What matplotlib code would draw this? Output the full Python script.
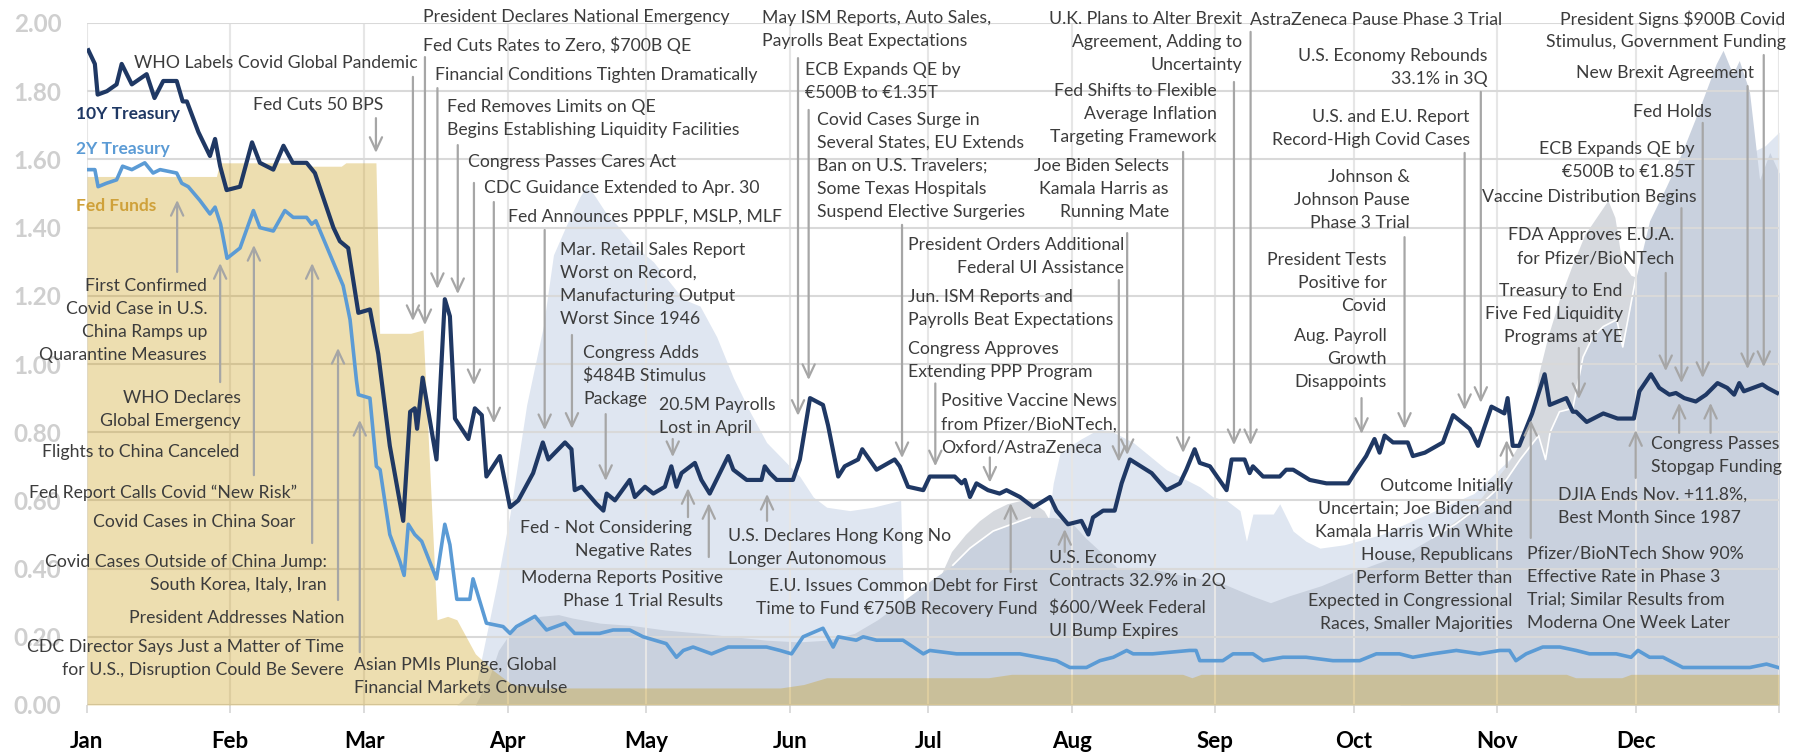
import numpy as np
import matplotlib
matplotlib.use("Agg")
import matplotlib.pyplot as plt

plt.rcParams['font.family'] = ['Lato', 'DejaVu Sans']

# ---------------- data ----------------
months = ['Jan', 'Feb', 'Mar', 'Apr', 'May', 'Jun', 'Jul', 'Aug', 'Sep', 'Oct', 'Nov', 'Dec', '']
month_start = [0, 31, 60, 91, 121, 152, 182, 213, 244, 274, 305, 335, 366]

ten_day = [0.3, 1.7, 2.3, 4.3, 6.4, 7.5, 9.7, 12.9, 14.6, 16.5, 19.4, 20.7, 21.6, 24.1, 26.6, 27.7, 28.8,
           30.2, 33.1, 35.7, 37.4, 40.3, 42.5, 44.5, 47.5, 49.3, 53.3, 54.7, 56.5, 58.7, 61.2, 63.0, 65.5,
           68.4, 69.9, 70.9, 71.4, 72.6, 75.6, 77.4, 78.5, 79.6, 82.5, 83.9, 85.4, 86.4, 89.3, 91.5, 93.3,
           96.5, 98.6, 99.8, 103.4, 104.8, 105.5, 107.0, 110.2, 111.7, 112.4, 114.2, 117.4, 118.5, 120.7,
           122.5, 125.0, 126.4, 127.5, 128.6, 131.5, 132.9, 134.7, 138.7, 139.8, 142.7, 145.9, 146.6, 147.7,
           149.2, 152.7, 154.2, 156.4, 159.2, 160.3, 162.5, 163.9, 166.8, 167.7, 170.8, 174.7, 175.8, 177.6,
           180.9, 182.3, 187.7, 189.2, 189.9, 191.0, 192.4, 194.9, 197.4, 198.9, 201.8, 204.7, 208.3, 209.7,
           212.2, 215.1, 216.6, 217.6, 219.8, 222.3, 223.8, 225.6, 230.3, 233.5, 236.4, 237.8, 239.6, 240.7,
           242.9, 246.5, 247.6, 250.4, 251.5, 252.2, 254.4, 258.0, 259.4, 260.9, 264.5, 268.1, 272.8, 274.2,
           276.7, 278.5, 279.6, 280.7, 282.5, 285.7, 286.8, 289.4, 293.3, 295.5, 299.1, 300.9, 303.8, 306.6,
           307.3, 308.4, 309.8, 312.6, 315.3, 316.4, 320.0, 321.4, 322.1, 324.4, 328.0, 331.1, 334.6, 335.8,
           338.3, 340.1, 342.3, 343.7, 345.5, 348.0, 350.2, 352.7, 354.8, 356.3, 357.4, 358.4, 362.4, 363.5,
           365.6]
ten_val = [1.92, 1.88, 1.79, 1.80, 1.82, 1.88, 1.82, 1.85, 1.78, 1.83, 1.83, 1.77, 1.77, 1.68, 1.61, 1.66, 1.58,
           1.51, 1.52, 1.65, 1.59, 1.57, 1.64, 1.59, 1.59, 1.56, 1.40, 1.36, 1.34, 1.15, 1.16, 1.03, 0.76,
           0.54, 0.86, 0.87, 0.81, 0.96, 0.72, 1.19, 1.14, 0.84, 0.78, 0.87, 0.85, 0.67, 0.73, 0.58, 0.60,
           0.68, 0.77, 0.72, 0.77, 0.75, 0.63, 0.64, 0.59, 0.57, 0.62, 0.60, 0.66, 0.61, 0.64,
           0.62, 0.64, 0.70, 0.64, 0.68, 0.71, 0.66, 0.62, 0.73, 0.69, 0.66, 0.66, 0.70, 0.68,
           0.66, 0.66, 0.72, 0.90, 0.88, 0.82, 0.67, 0.70, 0.72, 0.75, 0.69, 0.72, 0.70, 0.64,
           0.63, 0.67, 0.67, 0.65, 0.66, 0.61, 0.65, 0.63, 0.62, 0.63, 0.61, 0.58, 0.61, 0.57,
           0.53, 0.54, 0.50, 0.55, 0.57, 0.57, 0.65, 0.72, 0.68, 0.63, 0.65, 0.69, 0.75, 0.71,
           0.70, 0.63, 0.72, 0.72, 0.68, 0.70, 0.67, 0.67, 0.69, 0.69, 0.66, 0.65, 0.65, 0.68,
           0.73, 0.78, 0.74, 0.79, 0.77, 0.77, 0.73, 0.74, 0.77, 0.85, 0.81, 0.76, 0.875, 0.855,
           0.90, 0.76, 0.76, 0.855, 0.97, 0.88, 0.90, 0.86, 0.86, 0.83, 0.855, 0.84, 0.84, 0.92,
           0.97, 0.93, 0.91, 0.915, 0.90, 0.89, 0.91, 0.944, 0.93, 0.91, 0.944, 0.92, 0.94, 0.93,
           0.915]

two_day = [0.3, 1.7, 2.4, 4.2, 6.4, 7.7, 9.7, 12.5, 14.3, 15.8, 19.4, 20.5, 21.9, 24.4, 26.6, 27.7, 28.9,
           30.3, 33.1, 36.0, 37.4, 40.3, 42.8, 44.6, 47.5, 48.6, 49.5, 52.6, 55.4, 56.9, 58.3, 58.7, 61.2,
           62.6, 63.4, 65.5, 67.7, 68.6, 69.5, 70.9, 72.4, 75.6, 77.4, 78.5, 80.0, 82.8, 83.5, 86.4, 90.0,
           91.5, 92.9, 96.9, 99.4, 103.4, 105.5, 110.9, 113.8, 117.4, 120.3, 125.3, 127.5, 129.0, 131.1,
           135.1, 138.7, 147.0, 149.9, 152.4, 154.9, 159.2, 161.4, 162.5, 166.4, 167.9, 170.8, 176.5, 180.9,
           182.3, 188.1, 195.3, 201.8, 209.7, 212.6, 216.2, 219.1, 222.0, 224.9, 226.3, 230.5, 238.5, 239.9,
           240.7, 245.7, 247.9, 252.2, 254.4, 258.7, 263.7, 269.5, 275.3, 278.9, 283.9, 286.8, 291.1, 296.2,
           301.2, 305.6, 307.7, 309.1, 311.3, 314.9, 318.6, 322.1, 325.0, 330.8, 334.0, 335.5, 338.0, 340.9,
           345.2, 349.6, 353.9, 359.7, 363.3, 365.8]
two_val = [1.57, 1.57, 1.52, 1.53, 1.54, 1.58, 1.57, 1.59, 1.56, 1.57, 1.56, 1.53, 1.52, 1.48, 1.44, 1.46, 1.41,
           1.31, 1.34, 1.45, 1.40, 1.39, 1.45, 1.43, 1.43, 1.41, 1.42, 1.32, 1.23, 1.13, 0.95, 0.91, 0.90,
           0.70, 0.69, 0.50, 0.42, 0.38, 0.53, 0.50, 0.48, 0.37, 0.53, 0.47, 0.31, 0.31, 0.37, 0.24, 0.23,
           0.21, 0.23, 0.26, 0.22, 0.24, 0.21, 0.21, 0.22, 0.22, 0.20, 0.18, 0.14, 0.16, 0.17,
           0.15, 0.17, 0.17, 0.16, 0.15, 0.20, 0.225, 0.17, 0.20, 0.19, 0.20, 0.19, 0.19, 0.15,
           0.16, 0.15, 0.15, 0.15, 0.13, 0.11, 0.11, 0.13, 0.14, 0.16, 0.15, 0.15, 0.16, 0.16,
           0.13, 0.13, 0.15, 0.15, 0.13, 0.14, 0.14, 0.13, 0.13, 0.15, 0.15, 0.14, 0.15, 0.16,
           0.15, 0.16, 0.16, 0.13, 0.15, 0.17, 0.17, 0.16, 0.15, 0.15, 0.14, 0.16, 0.14, 0.14,
           0.11, 0.11, 0.11, 0.11, 0.12, 0.11]

ff_day = [0, 28, 28.7, 47, 47.5, 55, 56, 62.5, 63.3, 70, 72.7, 75.7, 78, 80, 84, 88, 92, 100, 150, 155,
          160, 195, 200, 237, 239, 241, 320, 322, 332, 334, 366]
ff_val = [1.55, 1.55, 1.59, 1.59, 1.58, 1.58, 1.59, 1.59, 1.09, 1.09, 1.10, 0.25, 0.26, 0.25, 0.15, 0.10,
          0.06, 0.05, 0.05, 0.06, 0.08, 0.08, 0.09, 0.09, 0.08, 0.09, 0.09, 0.08, 0.08, 0.09, 0.09]

# background series (light blue, light gray, blue-gray)
a_day = [80, 84, 85.4, 88.6, 91.5, 95.1, 98.7, 100.9, 103.8, 106.6, 108, 109.5, 112.4, 114.5, 118.1, 122.5,
         129, 132.6, 136.2, 139.8, 143.4, 147, 150.6, 154.2, 157.1, 160, 165, 170, 176, 176.6, 190, 200, 205,
         207.6, 209, 210.5, 215, 219, 222, 226.3, 233.5, 240.7, 243.6, 246.5, 249.4, 250.8, 252.2, 256.6, 258,
         260.9, 263.7, 266.7, 272, 280, 290, 300, 310, 320, 330, 340, 350, 356, 360, 363, 366]
a_val = [0.0, 0.05, 0.14, 0.35, 0.56, 0.88, 1.11, 1.32, 1.41, 1.49, 1.52, 1.50, 1.44, 1.41, 1.35, 1.30,
         1.19, 1.17, 1.08, 0.96, 0.86, 0.77, 0.72, 0.67, 0.61, 0.58, 0.57, 0.58, 0.60, 0.30, 0.30, 0.36, 0.42,
         0.50, 0.65, 0.74, 0.78, 0.81, 0.80, 0.77, 0.69, 0.64, 0.61, 0.60, 0.57, 0.48, 0.56, 0.56, 0.59,
         0.51, 0.48, 0.46, 0.47, 0.50, 0.56, 0.62, 0.75, 0.95, 1.15, 1.35, 1.52, 1.60, 1.62, 1.64, 1.68]

b_day = [0, 182, 184, 187, 190, 193, 196, 199, 202, 204, 207, 210, 213, 284, 290, 295, 300, 304, 307, 310,
         312.6, 314, 316, 318.5, 321, 324, 327, 329, 330.5, 332, 334, 336, 340, 345, 366]
b_val = [0.0, 0.0, 0.36, 0.45, 0.50, 0.54, 0.57, 0.59, 0.60, 0.60, 0.57, 0.50, 0.0, 0.0, 0.47, 0.53, 0.58,
         0.65, 0.70, 0.77, 0.84, 0.97, 1.08, 1.19, 1.28, 1.38, 1.44, 1.48, 1.43, 1.30, 1.26, 1.25, 1.20, 1.0,
         1.0]

c_day = [84, 87, 89, 91.5, 94.4, 98, 102, 105, 111, 118, 125, 133, 140, 147, 154, 160, 166, 171, 175, 179,
         183, 187.3, 191, 196, 200, 204, 209, 212.6, 216, 220, 223, 230, 237, 245, 252, 256, 260, 267, 274,
         280, 286, 291, 296, 300, 304, 307, 310, 314, 315.5, 316.5, 318.5, 321.4, 323.6, 325.7, 328, 330.9,
         332.2, 335, 338, 341.6, 345, 348.8, 352.4, 353.9, 356, 357.4, 359.6, 361.8, 364, 366]
c_val = [0.0, 0.08, 0.16, 0.21, 0.24, 0.26, 0.265, 0.255, 0.24, 0.233, 0.22, 0.21, 0.20, 0.19, 0.185, 0.19,
         0.21, 0.25, 0.29, 0.33, 0.37, 0.41, 0.46, 0.51, 0.53, 0.55, 0.55, 0.54, 0.49, 0.44, 0.40, 0.40, 0.38,
         0.36, 0.32, 0.30, 0.32, 0.35, 0.39, 0.42, 0.45, 0.49, 0.53, 0.57, 0.62, 0.66, 0.72, 0.79, 0.72, 0.80,
         0.86, 0.87, 1.02, 1.08, 1.11, 1.13, 1.05, 1.25, 1.42, 1.52, 1.62, 1.75, 1.88, 1.92, 1.85, 1.89, 1.80,
         1.54, 1.62, 1.56]

# annotations: text, label layout (x in days, y of first line, alignment)
ann = [
    ("First Confirmed\nCovid Case in U.S.\nChina Ramps up\nQuarantine Measures", 26.0, 1.229, 'right'),
    ("WHO Declares\nGlobal Emergency", 33.3, 0.900, 'right'),
    ("Flights to China Canceled", 32.9, 0.742, 'right'),
    ("Fed Report Calls Covid \u201cNew Risk\u201d", 45.4, 0.622, 'right'),
    ("Covid Cases in China Soar", 45.0, 0.537, 'right'),
    ("Covid Cases Outside of China Jump:\nSouth Korea, Italy, Iran", 51.9, 0.419, 'right'),
    ("President Addresses Nation", 55.6, 0.255, 'right'),
    ("CDC Director Says Just a Matter of Time\nfor U.S., Disruption Could Be Severe", 55.6, 0.170, 'right'),
    ("Asian PMIs Plunge, Global\nFinancial Markets Convulse", 57.7, 0.117, 'left'),
    ("Fed Cuts 50 BPS", 64.0, 1.760, 'right'),
    ("WHO Labels Covid Global Pandemic", 71.6, 1.883, 'right'),
    ("President Declares National Emergency", 72.7, 2.018, 'left'),
    ("Fed Cuts Rates to Zero, $700B QE", 72.7, 1.935, 'left'),
    ("Financial Conditions Tighten Dramatically", 75.3, 1.848, 'left'),
    ("Fed Removes Limits on QE\nBegins Establishing Liquidity Facilities", 77.9, 1.754, 'left'),
    ("Congress Passes Cares Act", 82.4, 1.592, 'left'),
    ("CDC Guidance Extended to Apr. 30", 85.9, 1.516, 'left'),
    ("Fed Announces PPPLF, MSLP, MLF", 91.0, 1.431, 'left'),
    ("Mar. Retail Sales Report\nWorst on Record,\nManufacturing Output\nWorst Since 1946", 102.3, 1.334, 'left'),
    ("Congress Adds\n$484B Stimulus\nPackage", 107.3, 1.032, 'left'),
    ("20.5M Payrolls\nLost in April", 123.7, 0.880, 'left'),
    ("Fed - Not Considering\nNegative Rates", 130.8, 0.519, 'right'),
    ("Moderna Reports Positive\nPhase 1 Trial Results", 137.5, 0.372, 'right'),
    ("U.S. Declares Hong Kong No\nLonger Autonomous", 138.6, 0.496, 'left'),
    ("May ISM Reports, Auto Sales,\nPayrolls Beat Expectations", 146.0, 2.015, 'left'),
    ("ECB Expands QE by\n\u20ac500B to \u20ac1.35T", 155.3, 1.862, 'left'),
    ("Covid Cases Surge in\nSeveral States, EU Extends\nBan on U.S. Travelers;\nSome Texas Hospitals\n"
     "Suspend Elective Surgeries", 157.9, 1.716, 'left'),
    ("President Orders Additional\nFederal UI Assistance", 224.3, 1.349, 'right'),
    ("Jun. ISM Reports and\nPayrolls Beat Expectations", 177.5, 1.197, 'left'),
    ("Congress Approves\nExtending PPP Program", 177.5, 1.044, 'left'),
    ("Positive Vaccine News\nfrom Pfizer/BioNTech,\nOxford/AstraZeneca", 184.7, 0.891, 'left'),
    ("E.U. Issues Common Debt for First\nTime to Fund \u20ac750B Recovery Fund", 205.7, 0.349, 'right'),
    ("U.S. Economy\nContracts 32.9% in 2Q", 208.0, 0.431, 'left'),
    ("$600/Week Federal\nUI Bump Expires", 208.0, 0.284, 'left'),
    ("Joe Biden Selects\nKamala Harris as\nRunning Mate", 234.0, 1.581, 'right'),
    ("Fed Shifts to Flexible\nAverage Inflation\nTargeting Framework", 244.4, 1.801, 'right'),
    ("U.K. Plans to Alter Brexit\nAgreement, Adding to\nUncertainty", 249.8, 2.012, 'right'),
    ("AstraZeneca Pause Phase 3 Trial", 251.5, 2.009, 'left'),
    ("U.S. Economy Rebounds\n33.1% in 3Q", 303.0, 1.903, 'right'),
    ("U.S. and E.U. Report\nRecord-High Covid Cases", 299.1, 1.724, 'right'),
    ("Johnson &\nJohnson Pause\nPhase 3 Trial", 286.1, 1.548, 'right'),
    ("President Tests\nPositive for\nCovid", 281.1, 1.305, 'right'),
    ("Aug. Payroll\nGrowth\nDisappoints", 281.1, 1.082, 'right'),
    ("Outcome Initially\nUncertain; Joe Biden and\nKamala Harris Win White\nHouse, Republicans\n"
     "Perform Better than\nExpected in Congressional\nRaces, Smaller Majorities", 308.4, 0.642, 'right'),
    ("Pfizer/BioNTech Show 90%\nEffective Rate in Phase 3\nTrial; Similar Results from\nModerna One Week Later",
     311.4, 0.443, 'left'),
    ("DJIA Ends Nov. +11.8%,\nBest Month Since 1987", 318.3, 0.616, 'left'),
    ("Congress Passes\nStopgap Funding", 338.4, 0.765, 'left'),
    ("Treasury to End\nFive Fed Liquidity\nPrograms at YE", 332.2, 1.214, 'right'),
    ("FDA Approves E.U.A.\nfor Pfizer/BioNTech", 343.4, 1.378, 'right'),
    ("Vaccine Distribution Begins", 348.2, 1.490, 'right'),
    ("ECB Expands QE by\n\u20ac500B to \u20ac1.85T", 347.8, 1.630, 'right'),
    ("Fed Holds", 351.4, 1.739, 'right'),
    ("New Brexit Agreement", 360.7, 1.853, 'right'),
    ("President Signs $900B Covid\nStimulus, Government Funding", 367.4, 2.012, 'right'),
]

# arrows: event day, tail level, tip level
arrows = [
    (19.5, 1.270, 1.481), (28.8, 0.947, 1.296), (36.1, 0.674, 1.349), (48.7, 0.475, 1.296),
    (54.3, 0.308, 1.047), (59.0, 0.155, 0.836), (62.5, 1.721, 1.619), (70.5, 1.842, 1.126),
    (73.1, 1.900, 1.114), (75.8, 1.809, 1.220), (80.2, 1.642, 1.205), (83.7, 1.531, 0.938),
    (88.0, 1.475, 0.826), (99.0, 1.393, 0.806), (104.9, 1.085, 0.810), (112.2, 0.853, 0.657),
    (126.7, 0.780, 0.727), (130.0, 0.551, 0.636), (134.5, 0.434, 0.592), (147.1, 0.540, 0.619),
    (153.8, 1.897, 0.848), (156.1, 1.745, 0.953), (176.3, 1.408, 0.724), (183.5, 0.943, 0.700),
    (195.3, 0.726, 0.652), (199.8, 0.390, 0.592), (211.5, 0.449, 0.516), (223.2, 1.246, 0.713),
    (225.0, 1.384, 0.733), (237.1, 1.622, 0.739), (248.1, 1.827, 0.762), (251.7, 1.974, 0.762),
    (275.7, 0.900, 0.795), (285.0, 1.372, 0.810), (298.0, 1.619, 0.865), (301.5, 1.798, 0.886),
    (307.1, 0.698, 0.777), (312.3, 0.490, 0.836), (322.7, 1.047, 0.897), (335.0, 0.666, 0.806),
    (341.5, 1.267, 0.979), (344.9, 1.457, 0.944), (349.5, 1.707, 0.959), (344.4, 0.798, 0.886),
    (351.2, 0.798, 0.886), (359.2, 1.815, 0.985), (362.7, 1.906, 0.991),
]

series_labels = [("10Y Treasury", '#1f3864', 1.733), ("2Y Treasury", '#5b9bd5', 1.630),
                 ("Fed Funds", '#cfa13a', 1.463)]

# ---------------- figure ----------------
W, H = 1803, 754
fig = plt.figure(figsize=(W / 100, H / 100), dpi=100)
ax = fig.add_axes([87 / W, (H - 705) / H, (1779 - 87) / W, (705 - 23) / H])
ax.set_xlim(0, 366)
ax.set_ylim(0, 2.0)

ax.fill_between(a_day, 0, a_val, color='#dfe6f1', lw=0, zorder=0.1)
ax.fill_between(b_day, 0, b_val, color='#d6d9de', lw=0, zorder=0.2)
ax.fill_between(c_day, 0, c_val, color='#c9d1de', lw=0, zorder=0.3)
b_on_c = np.interp(c_day, b_day, b_val)
c_edge = np.where(b_on_c >= np.array(c_val) - 0.01, c_val, np.nan)
ax.plot(c_day, c_edge, color='white', lw=1.2, zorder=0.35)

ax.set_axisbelow(True)
ax.set_yticks(np.round(np.arange(0, 2.001, 0.2), 2))
ax.set_xticks(month_start)
ax.grid(axis='y', color='#d9d9d9', lw=1.5)
ax.grid(axis='x', color='#e6e6e6', lw=1.5)

ax.fill_between(ff_day, 0, ff_val, color='#cb9b10', alpha=0.33, lw=0, zorder=1.0)

ax.plot(two_day, two_val, color='#5b9bd5', lw=2.6, zorder=3, solid_joinstyle='round')
ax.plot(ten_day, ten_val, color='#1f3864', lw=3.0, zorder=3.1, solid_joinstyle='round')

for s in ax.spines.values():
    s.set_visible(False)

ax.set_yticklabels([f"{v:.2f}" for v in np.arange(0, 2.001, 0.2)])
ax.tick_params(axis='y', length=0, pad=18.5, labelsize=17.5, labelcolor='#cfcfcf')
for t in ax.get_yticklabels():
    t.set_fontweight('bold')
ax.set_xticklabels(months)
ax.tick_params(axis='x', length=6, width=1.3, color='#d9d9d9', pad=13, labelsize=16, labelcolor='black')
for t in ax.get_xticklabels():
    t.set_fontweight('bold')

step = 23 / 341
for text, x, y, ha in ann:
    for i, line in enumerate(text.split('\n')):
        ax.text(x, y - i * step, line, ha=ha, va='center', fontsize=12.7, color='#3c3c3c',
                zorder=5, clip_on=False, parse_math=False)

for d, tail, tip in arrows:
    ax.annotate('', xy=(d, tip), xytext=(d, tail), zorder=4, annotation_clip=False,
                arrowprops=dict(arrowstyle='->,head_length=0.47,head_width=0.22', color='#a6a6a6',
                                lw=1.6, shrinkA=0, shrinkB=0, mutation_scale=20))

for name, col, y in series_labels:
    ax.text(-2.4, y, name, color=col, fontsize=12.5, fontweight='bold', ha='left', va='center',
            clip_on=False, zorder=5)

fig.savefig('out.png', dpi=100)
